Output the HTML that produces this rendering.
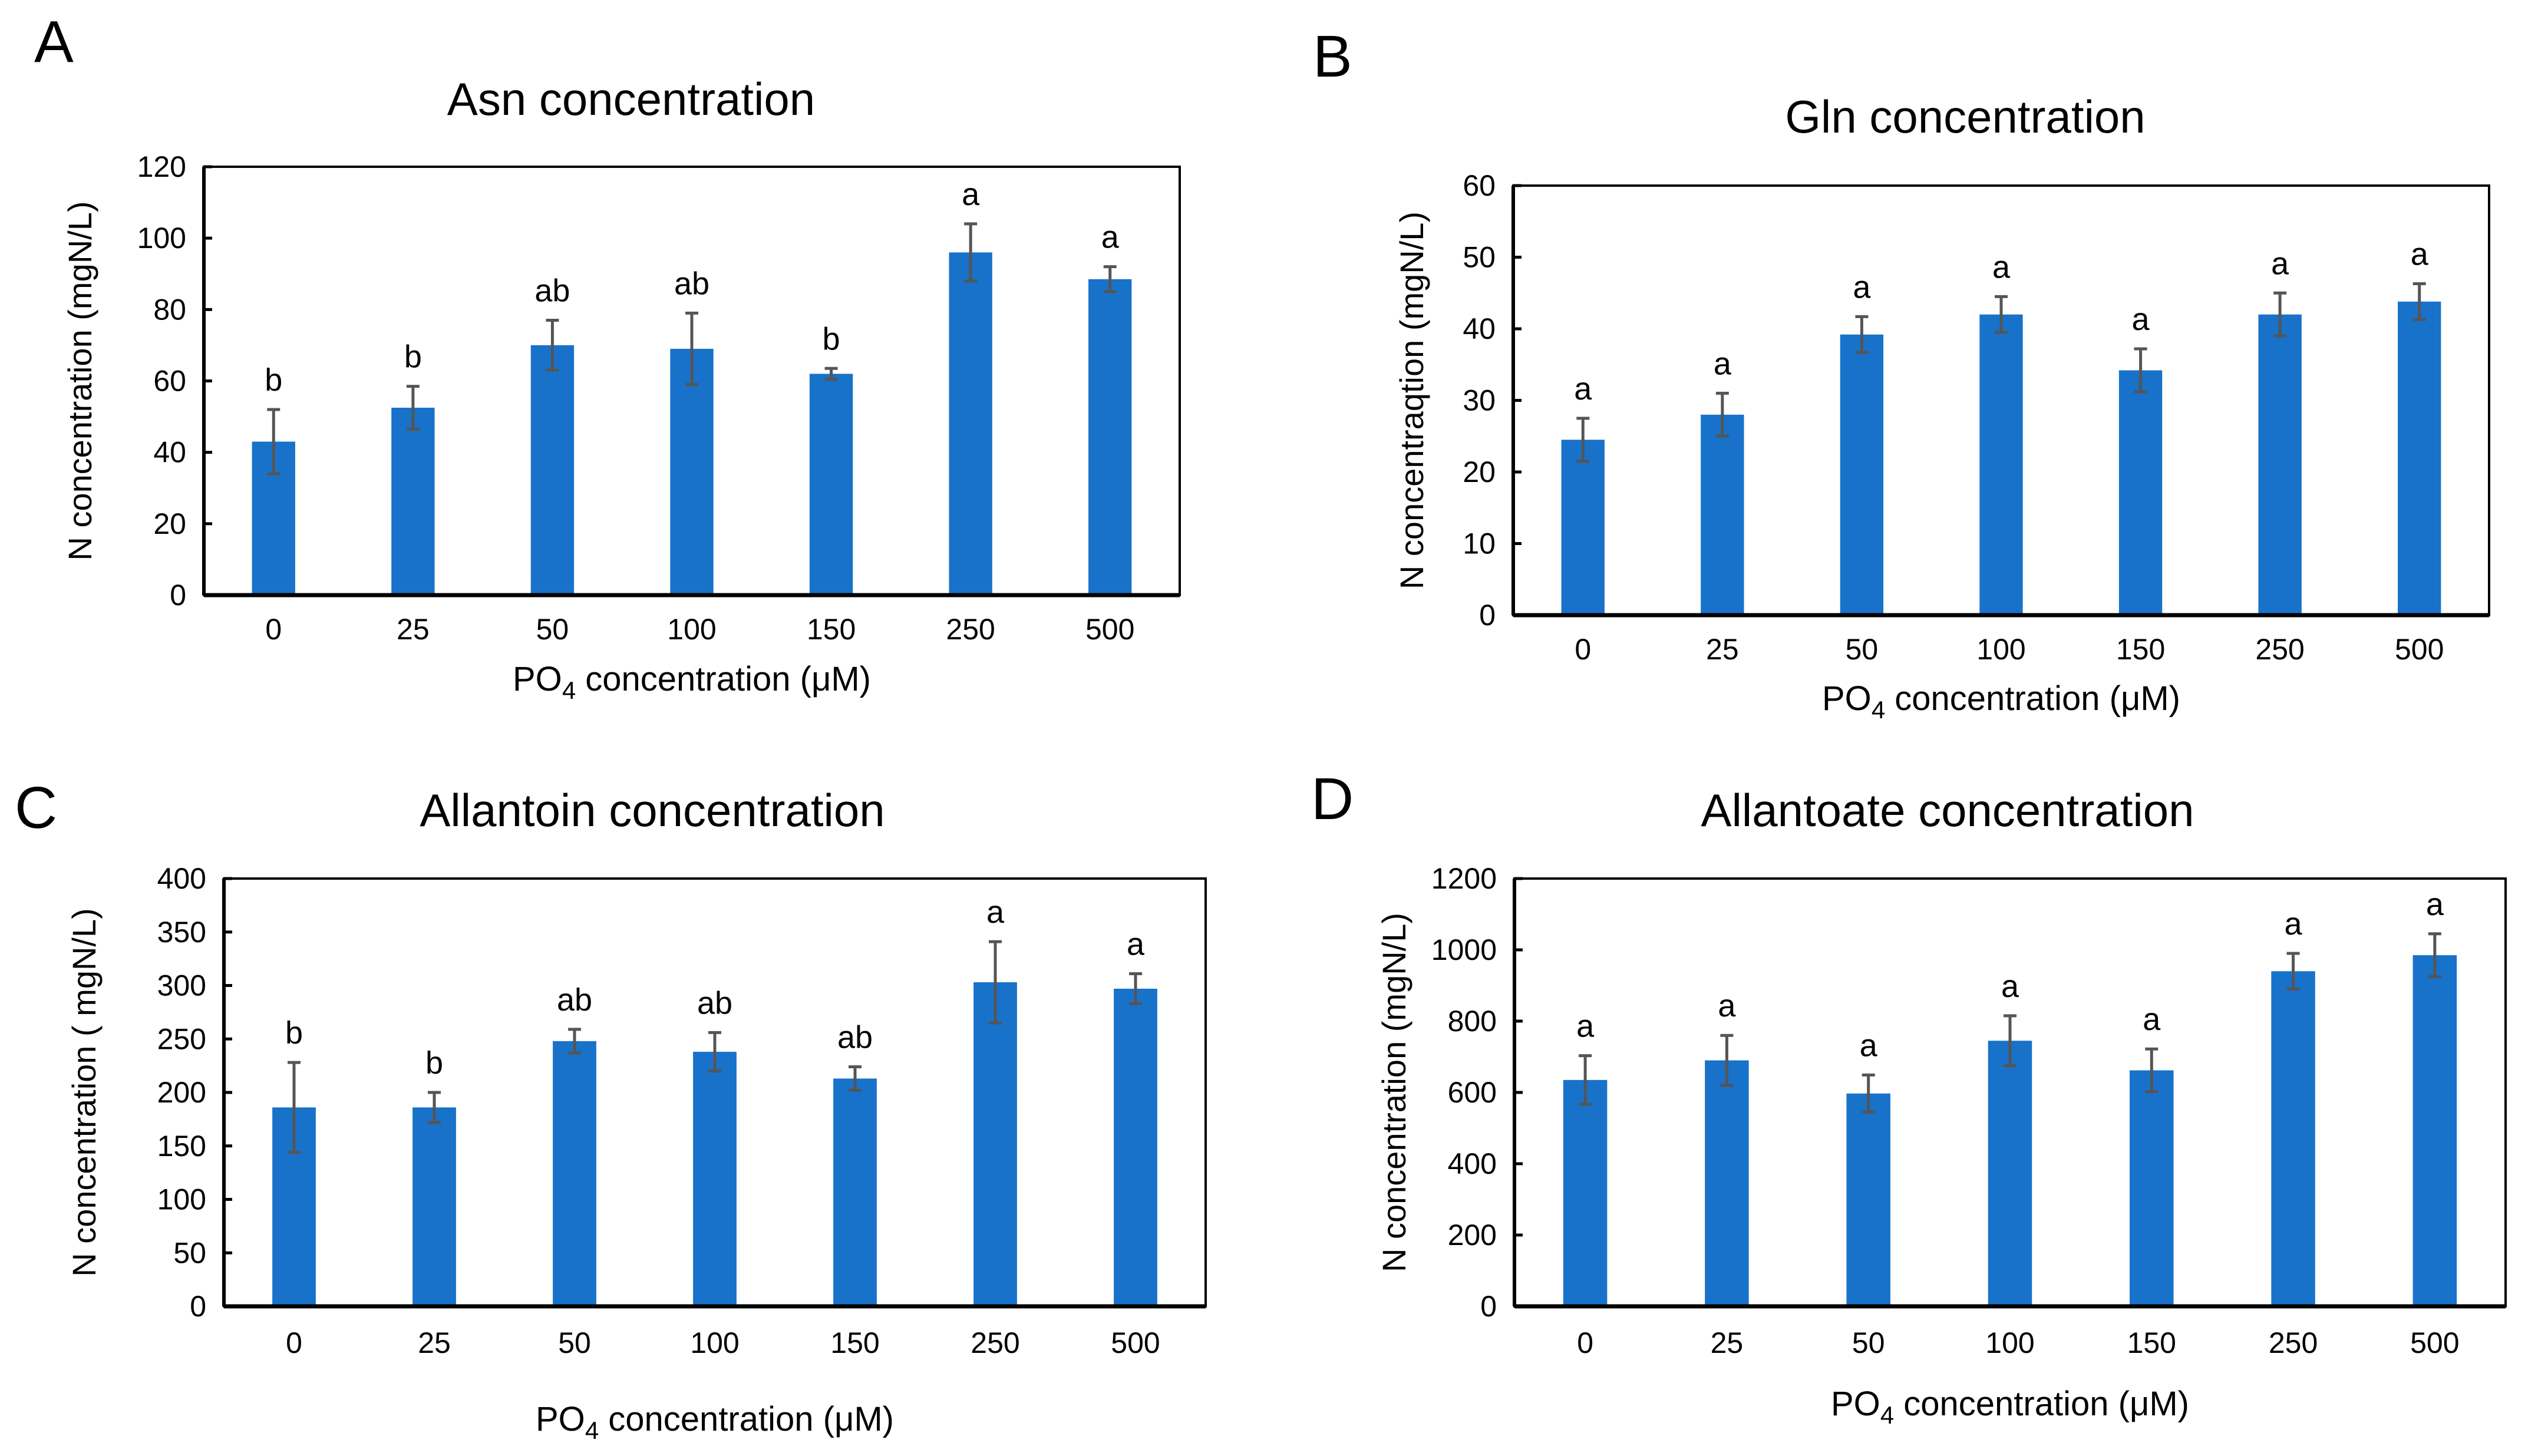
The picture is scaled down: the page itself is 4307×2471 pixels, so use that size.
<!DOCTYPE html>
<html><head><meta charset="utf-8"><style>
html,body{margin:0;padding:0;background:#fff;}
svg{display:block;}
text{fill:#000;}
</style></head><body>
<svg id="fig" width="4307" height="2471" viewBox="0 0 4307 2471" xmlns="http://www.w3.org/2000/svg"></svg>
<script>
const categories = ["0","25","50","100","150","250","500"];
const asnValues = [43, 52.5, 70, 69, 62, 96, 88.5];
const asnErrors = [9, 6, 7, 10, 1.5, 8, 3.5];
const asnLetters = ["b","b","ab","ab","b","a","a"];
const asnTicks = [0,20,40,60,80,100,120];
const glnValues = [24.5, 28, 39.2, 42, 34.2, 42, 43.8];
const glnErrors = [3, 3, 2.5, 2.5, 3, 3, 2.5];
const glnLetters = ["a","a","a","a","a","a","a"];
const glnTicks = [0,10,20,30,40,50,60];
const allantoinValues = [186, 186, 248, 238, 213, 303, 297];
const allantoinErrors = [42, 14, 11, 18, 11, 38, 14];
const allantoinLetters = ["b","b","ab","ab","ab","a","a"];
const allantoinTicks = [0,50,100,150,200,250,300,350,400];
const allantoateValues = [635, 690, 597, 745, 662, 940, 985];
const allantoateErrors = [68, 70, 52, 70, 60, 50, 60];
const allantoateLetters = ["a","a","a","a","a","a","a"];
const allantoateTicks = [0,200,400,600,800,1000,1200];

const NS = "http://www.w3.org/2000/svg";
const svg = document.getElementById('fig');
function mk(tag, attrs, parent){const e=document.createElementNS(NS,tag);for(const k in attrs)e.setAttribute(k,attrs[k]);(parent||svg).appendChild(e);return e;}
const NARROW = '"Liberation Sans Narrow","Liberation Sans",sans-serif';
const WIDE = '"Liberation Sans",sans-serif';

function panel(p){
  const g = mk('g',{});
  
  
  const L=p.box[0], T=p.box[1], R=p.box[2], B=p.box[3];
  const ymax=p.ticks[p.ticks.length-1];
  const yS=v=>B-(v/ymax)*(B-T);
  const step=(R-L)/categories.length;
  const xS=i=>L+step*(i+0.5);
  const bw=step*0.31;
  const lab=mk('text',{x:p.label[0],y:p.label[1],'font-size':100,'font-family':NARROW},g);
  lab.textContent=p.letter;
  
  
  const t=mk('text',{x:p.title[0],y:p.title[1],'font-size':78,'text-anchor':'middle','font-family':NARROW},g);
  t.textContent=p.titleText;
  
  
  p.values.forEach((v,i)=>{
    const r=mk('rect',{x:xS(i)-bw/2,y:yS(v),width:bw,height:B-yS(v),fill:'#1872c9'},g);
    
    
    const e=p.errors[i];
    const eg=mk('g',{stroke:'#555','stroke-width':5},g);
    
    
    mk('line',{x1:xS(i),x2:xS(i),y1:yS(v+e),y2:yS(v-e)},eg);
    mk('line',{x1:xS(i)-11,x2:xS(i)+11,y1:yS(v+e),y2:yS(v+e)},eg);
    mk('line',{x1:xS(i)-11,x2:xS(i)+11,y1:yS(v-e),y2:yS(v-e)},eg);
    const st=mk('text',{x:xS(i),y:yS(v+e)-32,'font-size':54,'text-anchor':'middle','font-family':p.font},g);
    st.textContent=p.letters[i];
    
    
    const xl=mk('text',{x:xS(i),y:p.xlabY,'font-size':50,'text-anchor':'middle','font-family':p.font},g);
    xl.textContent=categories[i];
    
    
  });
  p.ticks.forEach(v=>{
    mk('line',{x1:L,x2:L+14,y1:yS(v),y2:yS(v),stroke:'#000','stroke-width':5},g);
    const tl=mk('text',{x:L-30,y:yS(v)+17,'font-size':50,'text-anchor':'end','font-family':p.font},g);
    tl.textContent=v;
    
    
  });
  const fr=mk('rect',{x:L,y:T,width:R-L,height:B-T,fill:'none',stroke:'#000','stroke-width':4},g);
  
  
  mk('line',{x1:L,x2:R,y1:B,y2:B,stroke:'#000','stroke-width':7},g);
  mk('line',{x1:L,x2:L,y1:T,y2:B,stroke:'#000','stroke-width':6},g);
  const xt=mk('text',{x:(L+R)/2,y:p.xtitleY,'font-size':58,'text-anchor':'middle','font-family':NARROW},g);
  xt.innerHTML='PO<tspan font-size="42" dy="14">4</tspan><tspan dy="-14"> concentration (μM)</tspan>';
  
  
  const yt=mk('text',{x:0,y:0,'font-size':56,'text-anchor':'middle','font-family':p.yfont,transform:'translate('+p.ytitleX+','+(T+B)/2+') rotate(-90)'},g);
  yt.textContent=p.ytitle;
  
  
}

panel({id:'asn',letter:'A',label:[58,105],titleText:'Asn concentration',title:[1071,195],box:[346,283,2002,1010],
  values:asnValues,errors:asnErrors,letters:asnLetters,ticks:asnTicks,font:NARROW,yfont:WIDE,
  xlabY:1085,xtitleY:1172,ytitleX:155,ytitle:'N concentration (mgN/L)'});
panel({id:'gln',letter:'B',label:[2228,130],titleText:'Gln concentration',title:[3335,225],box:[2568,315,4224,1044],
  values:glnValues,errors:glnErrors,letters:glnLetters,ticks:glnTicks,font:NARROW,yfont:WIDE,
  xlabY:1119,xtitleY:1205,ytitleX:2415,ytitle:'N concentraqtion (mgN/L)'});
panel({id:'allantoin',letter:'C',label:[25,1405],titleText:'Allantoin concentration',title:[1107,1402],box:[380,1491,2046,2217],
  values:allantoinValues,errors:allantoinErrors,letters:allantoinLetters,ticks:allantoinTicks,font:WIDE,yfont:NARROW,
  xlabY:2296,xtitleY:2428,ytitleX:162,ytitle:'N concentration ( mgN/L)'});
panel({id:'allantoate',letter:'D',label:[2225,1390],titleText:'Allantoate concentration',title:[3305,1402],box:[2570,1491,4252,2217],
  values:allantoateValues,errors:allantoateErrors,letters:allantoateLetters,ticks:allantoateTicks,font:NARROW,yfont:WIDE,
  xlabY:2296,xtitleY:2402,ytitleX:2385,ytitle:'N concentration (mgN/L)'});
</script>
</body></html>
